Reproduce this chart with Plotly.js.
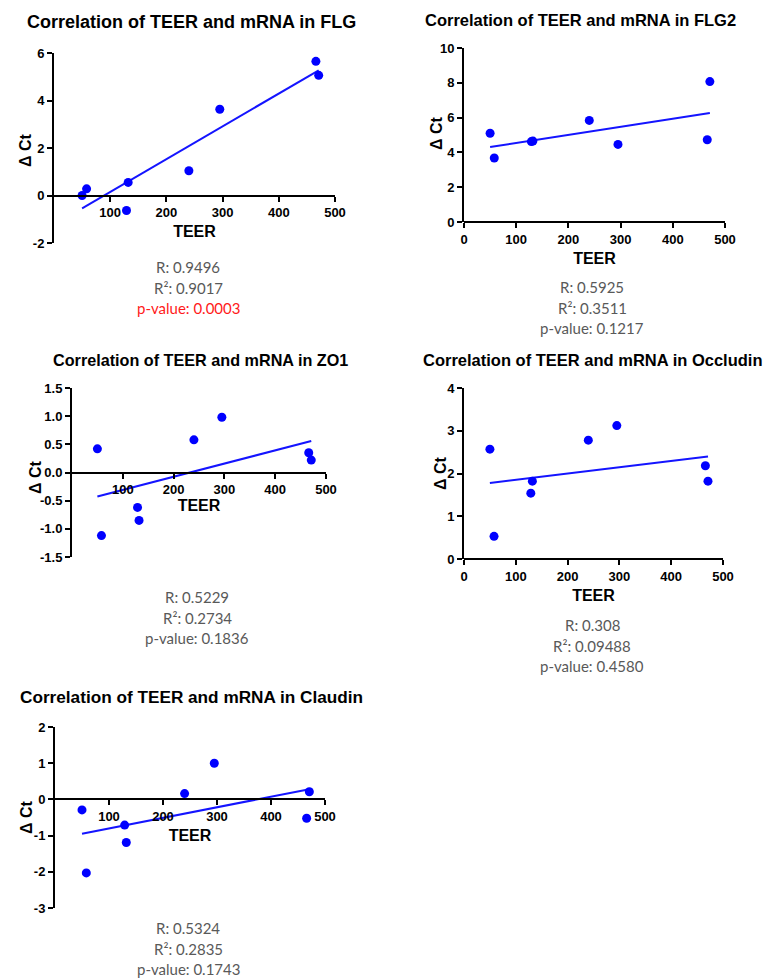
<!DOCTYPE html>
<html>
<head>
<meta charset="utf-8">
<script src="https://cdn.plot.ly/plotly-3.0.1.min.js"></script>
<style>html,body{margin:0;padding:0;background:#fff;}</style>
</head>
<body>
<div id="chart" style="width:766px;height:978px;"></div>
<script>
// ---------- data ----------
const teer = [50, 58, 129, 132, 240, 295, 466, 471];
const flg = [0.00, 0.28, -0.63, 0.55, 1.04, 3.63, 5.65, 5.06];
const flg2 = [5.10, 3.68, 4.62, 4.65, 5.84, 4.46, 4.73, 8.07];
const zo1 = [0.42, -1.12, -0.62, -0.85, 0.58, 0.98, 0.35, 0.22];
const occludin = [2.57, 0.53, 1.54, 1.82, 2.78, 3.12, 2.18, 1.82];
const claudin = [-0.29, -2.03, -0.71, -1.19, 0.16, 1.00, -0.52, 0.21];

const genes = ['FLG', 'FLG2', 'ZO1', 'Occludin', 'Claudin'];
const rValues = ['0.9496', '0.5925', '0.5229', '0.308', '0.5324'];
const r2Values = ['0.9017', '0.3511', '0.2734', '0.09488', '0.2835'];
const pValues = ['0.0003', '0.1217', '0.1836', '0.4580', '0.1743'];

const yTicksFLG = [-2, 0, 2, 4, 6];
const yTicksFLG2 = [0, 2, 4, 6, 8, 10];
const yTicksZO1 = [-1.5, -1.0, -0.5, 0.0, 0.5, 1.0, 1.5];
const yTicksOccludin = [0, 1, 2, 3, 4];
const yTicksClaudin = [-3, -2, -1, 0, 1, 2];
const xTicksCrossing = [100, 200, 300, 400, 500];
const xTicksFull = [0, 100, 200, 300, 400, 500];

const series = [flg, flg2, zo1, occludin, claudin];
const yTickSets = [yTicksFLG, yTicksFLG2, yTicksZO1, yTicksOccludin, yTicksClaudin];
const yDecimals = [0, 0, 1, 0, 0];

// ---------- layout (pixel positions) ----------
const W = 766, H = 978;
const panels = [
  {x0: 54, x1: 335, yTop: 53, yBot: 243, cross: true, tx: 191, ty: 22, ts: 18, yx: 25, yy: 150, xSo: 6, sx: 188, sy: 267},
  {x0: 464, x1: 725, yTop: 48, yBot: 222, cross: false, tx: 580, ty: 20, ts: 16.5, yx: 436, yy: 133, xSo: 6, sx: 592, sy: 287},
  {x0: 72, x1: 326, yTop: 388, yBot: 557, cross: true, tx: 200, ty: 360, ts: 16.2, yx: 35, yy: 477, xSo: 2, sx: 197, sy: 597},
  {x0: 464, x1: 723, yTop: 388, yBot: 559, cross: false, tx: 593, ty: 360, ts: 16.5, yx: 441, yy: 473, xSo: 6, sx: 592, sy: 625},
  {x0: 55, x1: 325, yTop: 727, yBot: 908, cross: true, tx: 191, ty: 697, ts: 17.2, yx: 26, yy: 817, xSo: 6, sx: 188, sy: 928}
];
const lineGap = 20.5;

function px(x) { return x / W; }
function py(y) { return 1 - y / H; }

function fit(x, y) {
  const n = x.length;
  const mx = x.reduce((a, b) => a + b, 0) / n;
  const my = y.reduce((a, b) => a + b, 0) / n;
  let sxy = 0, sxx = 0;
  for (let i = 0; i < n; i++) { sxy += (x[i] - mx) * (y[i] - my); sxx += (x[i] - mx) ** 2; }
  const slope = sxy / sxx;
  return {slope: slope, intercept: my - slope * mx};
}

const fam = 'Liberation Sans, Arial, sans-serif';
const tickFont = {family: fam, size: 13, color: '#000', weight: 'bold'};
const axisTitleFont = {family: fam, size: 16, color: '#000', weight: 'bold'};
const statFont = {family: 'Lato, Open Sans, sans-serif', size: 15, color: '#595959'};

const data = [];
const layout = {
  width: W, height: H,
  margin: {l: 0, r: 0, t: 0, b: 0},
  paper_bgcolor: '#fff', plot_bgcolor: '#fff',
  showlegend: false,
  annotations: []
};

panels.forEach((p, i) => {
  const k = i === 0 ? '' : String(i + 1);
  const yt = yTickSets[i];
  const ymin = yt[0], ymax = yt[yt.length - 1];
  const yd = [py(p.yBot), py(p.yTop)];
  const xTicks = p.cross ? xTicksCrossing : xTicksFull;
  const xPos = yd[0] + (0 - ymin) / (ymax - ymin) * (yd[1] - yd[0]);

  layout['xaxis' + k] = {
    domain: [px(p.x0), px(p.x1)],
    range: [0, 500],
    anchor: 'free', position: xPos,
    showline: true, linecolor: '#000', linewidth: 2,
    ticks: 'outside', ticklen: 5, tickwidth: 2, tickcolor: '#000',
    tickmode: 'array', tickvals: xTicks, ticktext: xTicks.map(v => String(v)),
    tickfont: tickFont, showgrid: false, zeroline: false, fixedrange: true,
    title: {text: 'TEER', font: axisTitleFont, standoff: p.xSo}
  };
  layout['yaxis' + k] = {
    domain: yd,
    range: [ymin, ymax],
    anchor: 'x' + k,
    showline: true, linecolor: '#000', linewidth: 2,
    ticks: 'outside', ticklen: 5, tickwidth: 2, tickcolor: '#000',
    tickmode: 'array', tickvals: yt, ticktext: yt.map(v => v.toFixed(yDecimals[i])),
    tickfont: tickFont, showgrid: false, zeroline: false, fixedrange: true
  };

  const f = fit(teer, series[i]);
  const xmin = Math.min(...teer), xmax = Math.max(...teer);
  data.push({
    x: [xmin, xmax], y: [f.intercept + f.slope * xmin, f.intercept + f.slope * xmax],
    xaxis: 'x' + k, yaxis: 'y' + k, mode: 'lines',
    line: {color: '#1414ff', width: 2}, hoverinfo: 'skip'
  });
  data.push({
    x: teer, y: series[i], xaxis: 'x' + k, yaxis: 'y' + k, mode: 'markers',
    marker: {color: '#0000ff', size: 9}, cliponaxis: false
  });

  const ann = layout.annotations;
  ann.push({text: 'Correlation of TEER and mRNA in ' + genes[i], xref: 'paper', yref: 'paper',
    x: px(p.tx), y: py(p.ty), xanchor: 'center', yanchor: 'middle', showarrow: false,
    font: {family: fam, size: p.ts, color: '#000', weight: 'bold'}});
  ann.push({text: 'Δ Ct', xref: 'paper', yref: 'paper', textangle: -90,
    x: px(p.yx), y: py(p.yy), xanchor: 'center', yanchor: 'middle', showarrow: false,
    font: axisTitleFont});
  const stats = ['R: ' + rValues[i], 'R²: ' + r2Values[i], 'p-value: ' + pValues[i]];
  stats.forEach((s, j) => {
    const col = (j === 2 && i === 0) ? '#ff1a1a' : statFont.color;
    ann.push({text: s, xref: 'paper', yref: 'paper',
      x: px(p.sx), y: py(p.sy + j * lineGap), xanchor: 'center', yanchor: 'middle', showarrow: false,
      font: Object.assign({}, statFont, {color: col})});
  });
});

Plotly.newPlot('chart', data, layout, {staticPlot: true, displayModeBar: false});
</script>
</body>
</html>
